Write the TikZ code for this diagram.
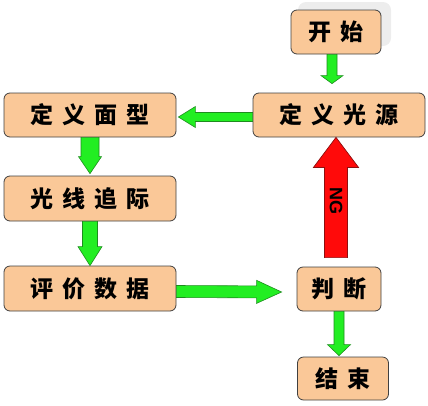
\documentclass[tikz,border=0pt]{standalone}
\usepackage{fontspec}
\newfontfamily\cjk{Noto Sans CJK SC Black}
\newfontfamily\lsans{Liberation Sans}
\usetikzlibrary{calc}
\definecolor{peach}{HTML}{FAC898}
\definecolor{gfill}{HTML}{22EE22}
\definecolor{gline}{HTML}{1E8C1E}
\definecolor{rfill}{HTML}{FF0A0A}
\definecolor{rline}{HTML}{8C1010}
\newcommand\gp{\hspace{9pt}}
% from, to, shaft half width, head half width, head length, style
\newcommand\blockarrow[6]{%
  \coordinate (ba-h) at ($(#2)!#5!(#1)$);
  \filldraw[#6] ($(#1)!#3!90:(#2)$) -- ($(ba-h)!#3!-90:(#1)$) -- ($(ba-h)!#4!-90:(#1)$) -- (#2)
    -- ($(ba-h)!#4!90:(#1)$) -- ($(ba-h)!#3!90:(#1)$) -- ($(#1)!#3!-90:(#2)$) -- cycle;}
\tikzset{
  box/.style={draw=black!75, line width=0.8pt, fill=peach, rounded corners=6pt,
    font=\cjk\fontsize{23}{25}\selectfont, text=black, inner sep=0pt},
  garrow/.style={fill=gfill, draw=gline, line width=0.6pt, line join=miter},
  rarrow/.style={fill=rfill, draw=rline, line width=0.7pt, line join=miter}
}
\begin{document}
\begin{tikzpicture}[x=1pt,y=-1pt]
\useasboundingbox (0,0) rectangle (428,405);
% faint shadow behind start
\fill[black!7, rounded corners=8pt] (298,2) rectangle (391,46);
\node[box, minimum width=90pt, minimum height=44pt] (start) at (336,32) {开\gp 始};
\node[box, minimum width=172pt, minimum height=44pt] (src) at (339,115) {定\gp 义\gp 光\gp 源};
\node[box, minimum width=172pt, minimum height=44pt] (surf) at (90,115) {定\gp 义\gp 面\gp 型};
\node[box, minimum width=172pt, minimum height=45pt] (trace) at (90,198.5) {光\gp 线\gp 追\gp 际};
\node[box, minimum width=172pt, minimum height=45pt] (eval) at (90,288.5) {评\gp 价\gp 数\gp 据};
\node[box, minimum width=84pt, minimum height=44pt] (judge) at (339,289) {判\gp 断};
\node[box, minimum width=91pt, minimum height=43pt] (end) at (343,378.5) {结\gp 束};
% connector end points
\coordinate (a1s) at ([xshift=-4pt]start.south);
\coordinate (a1e) at ($(a1s |- src.north)+(0,-9)$);
\coordinate (a2s) at ([yshift=-2pt]src.west);
\coordinate (a2e) at ([xshift=2pt,yshift=-2pt]surf.east);
\coordinate (a3s) at (surf.south);
\coordinate (a3e) at ([yshift=2pt]trace.north);
\coordinate (a4s) at (trace.south);
\coordinate (a4e) at (eval.north);
\coordinate (a5s) at ([yshift=-3pt]eval.east);
\coordinate (a5e) at ([xshift=-15pt,yshift=-3pt]judge.west);
\coordinate (a6s) at (judge.south);
\coordinate (a6e) at ($(a6s |- end.north)+(0,-1)$);
\coordinate (a7s) at ([xshift=-3pt,yshift=9pt]judge.north);
\coordinate (a7e) at ($(a7s |- src.south)$);
\blockarrow{a1s}{a1e}{5pt}{11pt}{8pt}{garrow}
\blockarrow{a2s}{a2e}{4.5pt}{10.5pt}{17pt}{garrow}
\blockarrow{a3s}{a3e}{9pt}{11.5pt}{17pt}{garrow}
\blockarrow{a4s}{a4e}{7.5pt}{12pt}{19pt}{garrow}
\blockarrow{a5s}{a5e}{6pt}{11.5pt}{25pt}{garrow}
\blockarrow{a6s}{a6e}{5pt}{11.5pt}{11pt}{garrow}
\blockarrow{a7s}{a7e}{11.5pt}{22.5pt}{30pt}{rarrow}
\node[rotate=-90, font=\lsans\bfseries\fontsize{18}{18}\selectfont, inner sep=0pt] (ng) at (336,201) {NG};
\end{tikzpicture}
\end{document}
